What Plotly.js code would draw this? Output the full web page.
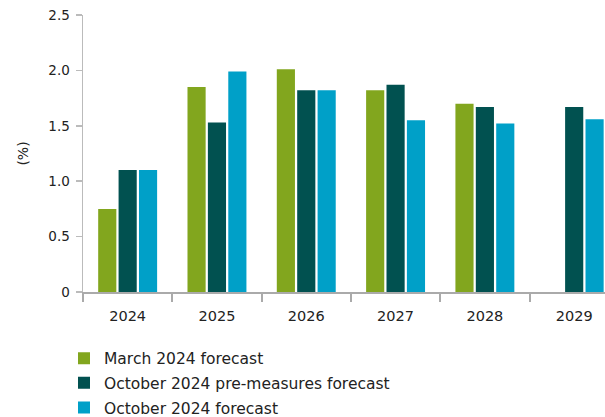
<!DOCTYPE html>
<html>
<head>
<meta charset="utf-8">
<script src="https://cdn.plot.ly/plotly-3.0.1.min.js"></script>
<style>html,body{margin:0;padding:0;background:#fff;}#chart{width:605px;height:417px;}</style>
</head>
<body>
<div id="chart"></div>
<script>
const years = ["2024", "2025", "2026", "2027", "2028", "2029"];
const march2024 = [0.75, 1.85, 2.01, 1.82, 1.70, null];
const oct2024Pre = [1.10, 1.53, 1.82, 1.87, 1.67, 1.67];
const oct2024 = [1.10, 1.99, 1.82, 1.55, 1.52, 1.56];
const seriesNames = ["March 2024 forecast", "October 2024 pre-measures forecast", "October 2024 forecast"];
const seriesColors = ["#82A61E", "#015150", "#00A0C8"];
const yTickVals = [0, 0.5, 1.0, 1.5, 2.0, 2.5];
const yTickText = ["0", "0.5", "1.0", "1.5", "2.0", "2.5"];

const font = "'DejaVu Sans', sans-serif";
const data = [march2024, oct2024Pre, oct2024].map((vals, i) => ({
  type: "bar",
  x: years,
  y: vals,
  name: seriesNames[i],
  legendgroup: "g" + i,
  marker: {color: seriesColors[i]},
  hoverinfo: "skip"
}));

const layout = {
  width: 605, height: 417,
  margin: {l: 83, r: 0, t: 15, b: 124.5, autoexpand: false},
  paper_bgcolor: "#fff", plot_bgcolor: "#fff",
  font: {family: font, size: 13, color: "#222"},
  barmode: "group",
  bargap: 0.315,
  bargroupgap: 0.11,
  xaxis: {
    type: "category",
    range: [-0.5, 5.345],
    showgrid: false, zeroline: false,
    showline: true, linecolor: "#aaa", linewidth: 2,
    ticks: "outside", tickson: "boundaries", ticklen: 8, tickwidth: 2, tickcolor: "#aaa",
    ticklabelstandoff: 10,
    tickfont: {family: font, size: 14.5, color: "#222"}
  },
  yaxis: {
    range: [0, 2.5],
    tickvals: yTickVals, ticktext: yTickText,
    showgrid: false, zeroline: false,
    showline: true, linecolor: "#bbb", linewidth: 1.5,
    ticks: "outside", ticklen: 6, tickwidth: 1.5, tickcolor: "#bbb",
    ticklabelstandoff: 3,
    tickfont: {family: font, size: 13.5, color: "#222"},
    title: {text: "(%)", font: {family: font, size: 14, color: "#222"}, standoff: 16}
  },
  showlegend: true,
  legend: {
    orientation: "v",
    x: -0.0364, xanchor: "left",
    y: -0.179, yanchor: "top",
    font: {family: font, size: 15.5, color: "#222"},
    bgcolor: "rgba(0,0,0,0)",
    itemwidth: 30,
    tracegroupgap: 1.5,
    traceorder: "grouped"
  }
};

Plotly.newPlot("chart", data, layout, {displayModeBar: false, staticPlot: true});
</script>
</body>
</html>
